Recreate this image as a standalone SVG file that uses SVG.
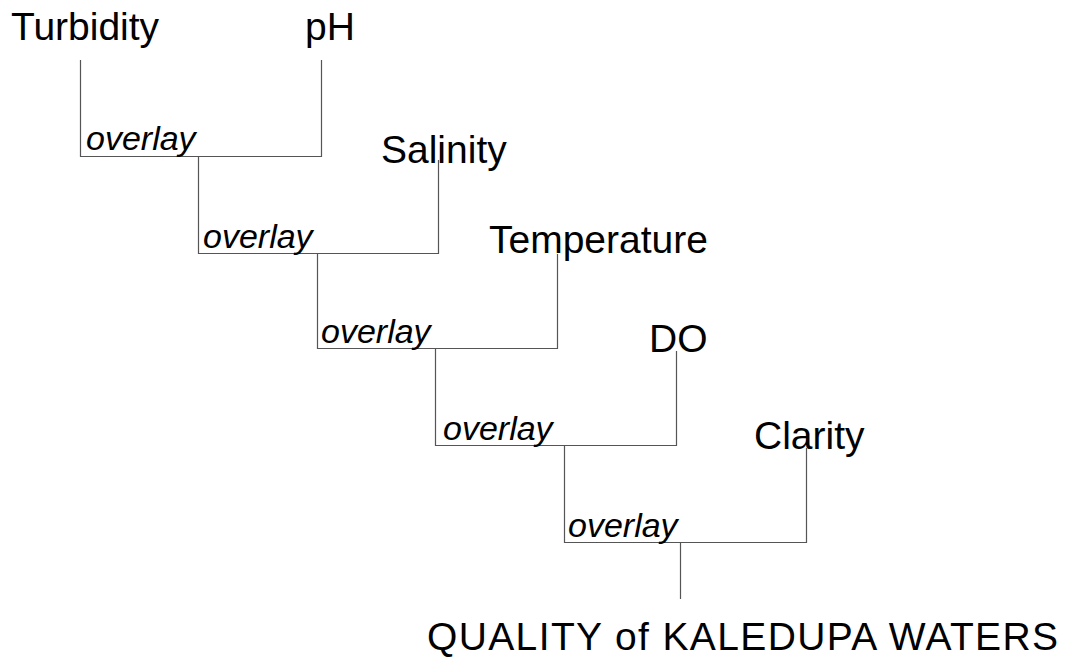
<svg xmlns="http://www.w3.org/2000/svg" width="1065" height="659" viewBox="0 0 1065 659">
<style>
.lbl{font-family:"Liberation Sans",Arial,sans-serif;font-size:39px;fill:#000}
.ov{font-family:"Liberation Sans",Arial,sans-serif;font-size:34px;font-style:italic;fill:#000}
.ln{fill:none;stroke:#555;stroke-width:1.2}
</style>
<rect width="1065" height="659" fill="#fff"/>
<g id="connectors">
<path class="ln" d="M80.5,60 V156.5 H321.5 V60"/>
<path class="ln" d="M198.5,156.5 V253.5 H438.5 V160"/>
<path class="ln" d="M317.5,253.5 V348.5 H557.5 V254"/>
<path class="ln" d="M435.5,348.5 V445.5 H676.5 V351"/>
<path class="ln" d="M564.5,445.5 V542.5 H806.5 V448"/>
<path class="ln" d="M680.5,542.5 V599"/>
</g>
<g id="turbidity"><text class="lbl" x="11" y="40">Turbidity</text></g>
<g id="ph"><text class="lbl" x="305" y="40">pH</text></g>
<g id="salinity"><text class="lbl" x="381" y="163">Salinity</text></g>
<g id="temperature"><text class="lbl" x="489" y="253">Temperature</text></g>
<g id="do"><text class="lbl" x="649" y="352">DO</text></g>
<g id="clarity"><text class="lbl" x="754" y="449">Clarity</text></g>
<g id="overlay1"><text class="ov" x="86" y="150">overlay</text></g>
<g id="overlay2"><text class="ov" x="203" y="248">overlay</text></g>
<g id="overlay3"><text class="ov" x="321" y="343">overlay</text></g>
<g id="overlay4"><text class="ov" x="443" y="440">overlay</text></g>
<g id="overlay5"><text class="ov" x="568" y="537">overlay</text></g>
<g id="result"><text class="lbl" x="427" y="650" textLength="631" lengthAdjust="spacing">QUALITY of KALEDUPA WATERS</text></g>
</svg>
